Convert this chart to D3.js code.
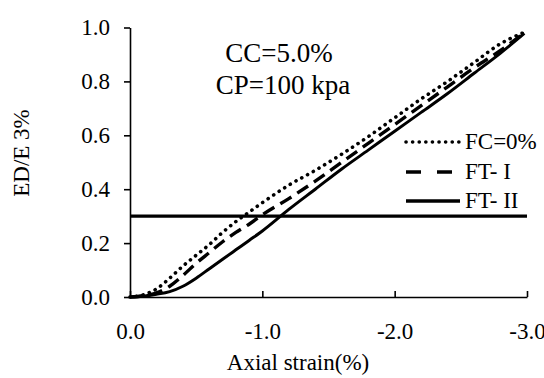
<!DOCTYPE html>
<html><head><meta charset="utf-8">
<script src="https://cdn.jsdelivr.net/npm/d3@7"></script>
<style>body{margin:0;background:#fff}svg{display:block}text{font-family:"Liberation Serif","Times New Roman",serif;fill:#000}</style>
</head><body>
<svg id="c" width="544" height="378"></svg>
<script>
const xTicks = [0, -1, -2, -3];
const xTickLabels = ["0.0", "-1.0", "-2.0", "-3.0"];
const yTicks = [0, 0.2, 0.4, 0.6, 0.8, 1.0];
const yTickLabels = ["0.0", "0.2", "0.4", "0.6", "0.8", "1.0"];
const strain = [0, -0.1, -0.2, -0.3, -0.4, -0.5, -0.6, -0.7, -0.8, -0.9, -1.0, -1.2, -1.4, -1.6, -1.8, -2.0, -2.2, -2.4, -2.6, -2.8, -2.98];
const fc0 = [0, 0.008, 0.03, 0.07, 0.115, 0.155, 0.195, 0.24, 0.28, 0.315, 0.35, 0.415, 0.47, 0.53, 0.595, 0.665, 0.735, 0.80, 0.87, 0.94, 0.982];
const ft1 = [0, 0.005, 0.015, 0.04, 0.08, 0.125, 0.165, 0.205, 0.24, 0.27, 0.305, 0.365, 0.43, 0.50, 0.57, 0.64, 0.71, 0.78, 0.85, 0.915, 0.98];
const ft2 = [0, 0.003, 0.01, 0.02, 0.04, 0.07, 0.105, 0.14, 0.175, 0.21, 0.245, 0.325, 0.40, 0.475, 0.545, 0.615, 0.685, 0.755, 0.83, 0.905, 0.978];
const threshold = 0.3;
const seriesNames = ["FC=0%", "FT- I", "FT- II"];
const annotations = ["CC=5.0%", "CP=100 kpa"];

const svg = d3.select("#c");
const x = d3.scaleLinear().domain([0, -3]).range([130, 527]);
const y = d3.scaleLinear().domain([0, 1]).range([297, 27.5]);

// y axis
const ya = svg.append("g").attr("transform", "translate(130,0)")
  .call(d3.axisLeft(y).tickValues(yTicks).tickFormat((d,i)=>yTickLabels[i]).tickSize(6).tickPadding(14).tickSizeOuter(0));
ya.select(".domain").attr("stroke", "#000").attr("stroke-width", 1.6);
ya.selectAll(".tick line").attr("stroke", "#000").attr("stroke-width", 1.6);
ya.selectAll(".tick text").attr("font-size", 23).attr("font-family", "Liberation Serif").attr("fill", "#000");

// x axis
const xa = svg.append("g").attr("transform", "translate(0,297)")
  .call(d3.axisBottom(x).tickValues(xTicks).tickFormat((d,i)=>xTickLabels[i]).tickSize(-6).tickPadding(26).tickSizeOuter(0));
xa.select(".domain").attr("stroke", "#000").attr("stroke-width", 1.6);
xa.selectAll(".tick line").attr("stroke", "#000").attr("stroke-width", 1.6);
xa.selectAll(".tick text").attr("font-size", 23).attr("font-family", "Liberation Serif").attr("fill", "#000");

// threshold line
svg.append("line").attr("x1", x(0)).attr("x2", x(-3)).attr("y1", y(threshold)).attr("y2", y(threshold))
  .attr("stroke", "#000").attr("stroke-width", 3.2);

const line = d3.line().x(d=>x(d[0])).y(d=>y(d[1])).curve(d3.curveMonotoneX);
const styles = [
  {dash: "0.1,6.5", w: 3.6, cap: "round"},
  {dash: "13,7", w: 3.4, cap: "butt"},
  {dash: null, w: 3, cap: "butt"}
];
[fc0, ft1, ft2].forEach((s, i) => {
  svg.append("path").datum(strain.map((v,j)=>[v, s[j]]))
    .attr("d", line).attr("fill", "none").attr("stroke", "#000")
    .attr("stroke-width", styles[i].w).attr("stroke-linecap", styles[i].cap)
    .attr("stroke-dasharray", styles[i].dash);
});

// legend
const legY = [142, 172, 201];
seriesNames.forEach((n, i) => {
  svg.append("line").attr("x1", 406).attr("x2", i===1 ? 452 : 460).attr("y1", legY[i]).attr("y2", legY[i])
    .attr("stroke", "#000").attr("stroke-width", i===2 ? 3.4 : styles[i].w).attr("stroke-linecap", styles[i].cap)
    .attr("stroke-dasharray", i===1 ? "15,16" : styles[i].dash);
  svg.append("text").attr("x", 465).attr("y", legY[i]+7).attr("font-size", 23).text(n);
});

// annotation
svg.append("text").attr("x", 279).attr("y", 62).attr("text-anchor", "middle").attr("font-size", 27).text(annotations[0]);
svg.append("text").attr("x", 283).attr("y", 94).attr("text-anchor", "middle").attr("font-size", 27).text(annotations[1]);

// axis titles
svg.append("text").attr("x", 298).attr("y", 370).attr("text-anchor", "middle").attr("font-size", 23).text("Axial strain(%)");
svg.append("text").attr("transform", "translate(29,153) rotate(-90)").attr("text-anchor", "middle").attr("font-size", 23).text("ED/E 3%");
</script>
</body></html>
